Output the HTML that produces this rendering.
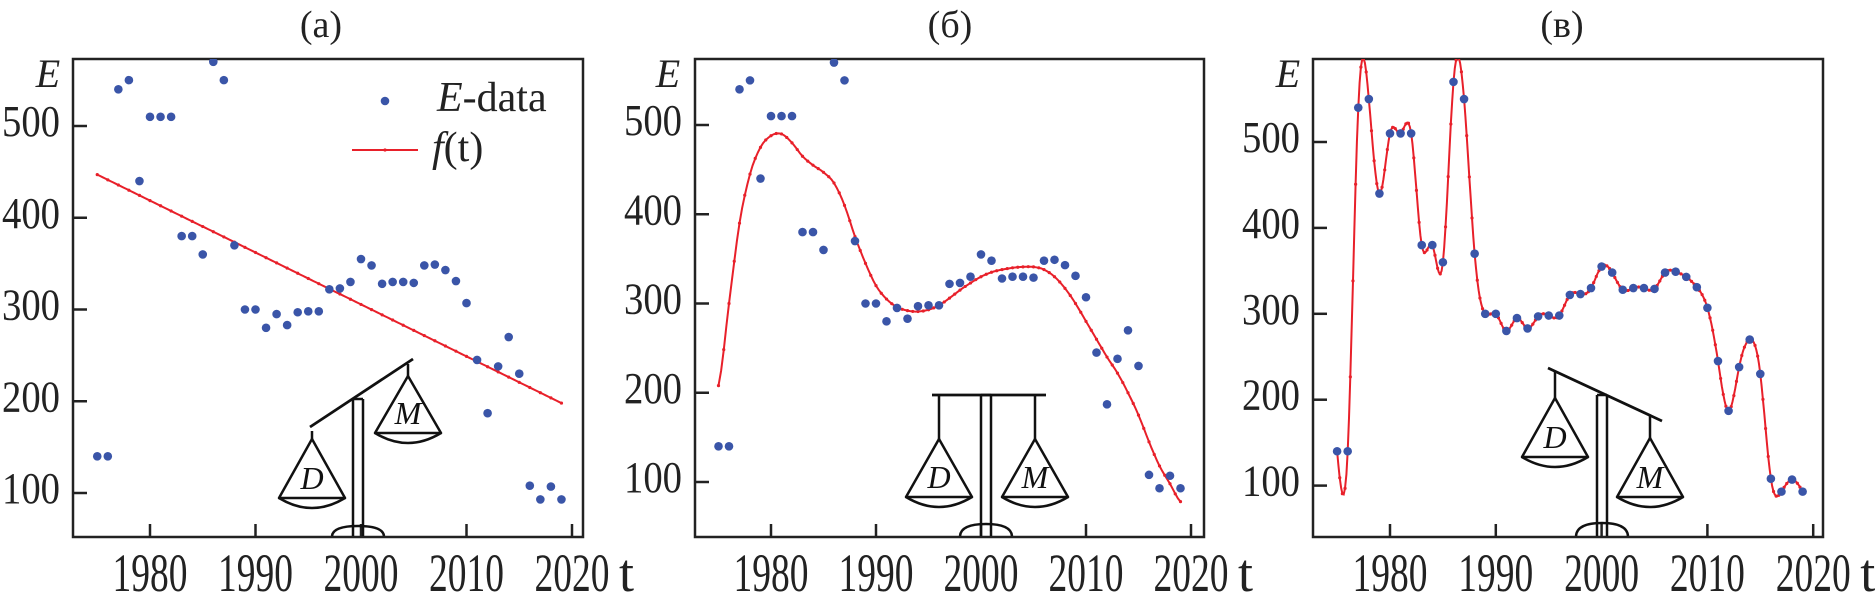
<!DOCTYPE html>
<html><head><meta charset="utf-8"><style>
html,body{margin:0;padding:0;background:#fff;}
svg{display:block;font-family:"Liberation Serif",serif;}
</style></head><body>
<svg id="chart" width="1875" height="595" viewBox="0 0 1875 595" xmlns="http://www.w3.org/2000/svg"></svg>
<script>
const years=[1975,1976,1977,1978,1979,1980,1981,1982,1983,1984,1985,1986,1987,1988,1989,1990,1991,1992,1993,1994,1995,1996,1997,1998,1999,2000,2001,2002,2003,2004,2005,2006,2007,2008,2009,2010,2011,2012,2013,2014,2015,2016,2017,2018,2019];
const eData=[140,140,540,550,440,510,510,510,380,380,360,570,550,370,300,300,280,295,283,297,298,298,322,323,330,355,348,328,330,330,329,348,349,343,331,307,245,187,238,270,230,108,93,107,93];
const fitA=[447,198];
const fitB=[208,300,390,445,475,488,490,480,465,455,447,435,410,375,345,320,305,296,292,291,293,298,306,315,323,330,335,338,340,341,341,338,330,317,300,280,260,240,222,200,175,145,118,98,78];
const xTicks=[1980,1990,2000,2010,2020];
const yTicks=[100,200,300,400,500];
const titles=["(a)","(б)","(в)"];

const NS="http://www.w3.org/2000/svg";
const svg=document.getElementById('chart');
function el(tag,attrs,parent,text){const e=document.createElementNS(NS,tag);for(const k in attrs)e.setAttribute(k,attrs[k]);if(text!==undefined)e.textContent=text;(parent||svg).appendChild(e);return e;}

const panels=[
 {l:73,r:583,t:59,b:537,x0:150,xs:10.55,y0:126,ys:0.9175,titleX:321,eX:48},
 {l:695,r:1204,t:59,b:537,x0:771,xs:10.5,y0:125,ys:0.8925,titleX:950,eX:668},
 {l:1313,r:1823,t:59,b:537,x0:1390,xs:10.58,y0:142,ys:0.859,titleX:1562,eX:1288}
];
panels.forEach((p,i)=>{
 p.X=v=>p.x0+(v-1980)*p.xs;
 p.Y=v=>p.y0+(500-v)*p.ys;
 const g=el('g',{},svg);
 
 
 const cp=el('clipPath',{id:'clip'+i},g);
 el('rect',{x:p.l,y:p.t,width:p.r-p.l,height:p.b-p.t},cp);
 const tt=el('text',{x:p.titleX,y:37,'font-size':38,'text-anchor':'middle',fill:'#222'},g,titles[i]);
 
 
 const fr=el('rect',{x:p.l,y:p.t,width:p.r-p.l,height:p.b-p.t,fill:'none',stroke:'#222','stroke-width':2.5},g);
 
 
 yTicks.forEach(v=>{
  const y=p.Y(v);
  el('line',{x1:p.l,x2:p.l+14,y1:y,y2:y,stroke:'#222','stroke-width':2.5},g);
  const t=el('text',{x:p.l-13,y:y+10,'font-size':44,'text-anchor':'end',fill:'#222',textLength:58,lengthAdjust:'spacingAndGlyphs'},g,String(v));
  
  
 });
 xTicks.forEach(v=>{
  const x=p.X(v);
  el('line',{x1:x,x2:x,y1:p.b,y2:p.b-13,stroke:'#222','stroke-width':2.5},g);
  const t=el('text',{x:x,y:591,'font-size':54,'text-anchor':'middle',fill:'#222',textLength:75,lengthAdjust:'spacingAndGlyphs'},g,String(v));
  
  
 });
 const tl=el('text',{x:p.X(2020)+47,y:591,'font-size':54,fill:'#222'},g,'t');
 
 
 const el2=el('text',{x:p.eX,y:87,'font-size':40,'font-style':'italic','text-anchor':'middle',fill:'#222'},g,'E');
 
 
 p.g=g;
});

function curvePath(p,pts){return pts.map((q,k)=>(k?'L':'M')+p.X(q[0]).toFixed(1)+','+p.Y(q[1]).toFixed(1)).join('');}
function drawCurve(i,pts,step){
 const p=panels[i];
 const c=el('g',{'clip-path':'url(#clip'+i+')'},p.g);
 const path=el('path',{d:curvePath(p,pts),fill:'none',stroke:'#e8202a','stroke-width':2},c);
 
 
 pts.forEach((q,k)=>{if(k%step===0){const m=el('circle',{cx:p.X(q[0]),cy:p.Y(q[1]),r:1.6,fill:'#e8202a'},c);
  
  }});
}
function drawData(i){
 const p=panels[i];
 const c=el('g',{'clip-path':'url(#clip'+i+')'},p.g);
 years.forEach((yr,k)=>{
  const d=el('circle',{cx:p.X(yr),cy:p.Y(eData[k]),r:4.3,fill:'#3a55a8'},c);
  
  
 });
}
(function(){
 const pts=[];const y0=years[0],y1=years[years.length-1];
 for(let k=0;k<=(y1-y0)*4;k++){const t=y0+k/4;pts.push([t,fitA[0]+(fitA[1]-fitA[0])*(t-y0)/(y1-y0)]);}
 drawCurve(0,pts,4);
})();
function catmull(xs,ys,n){
 const out=[];
 for(let k=0;k<xs.length-1;k++){
  const p0=ys[Math.max(k-1,0)],p1=ys[k],p2=ys[k+1],p3=ys[Math.min(k+2,ys.length-1)];
  for(let s=0;s<n;s++){const t=s/n;
   const v=0.5*((2*p1)+(-p0+p2)*t+(2*p0-5*p1+4*p2-p3)*t*t+(-p0+3*p1-3*p2+p3)*t*t*t);
   out.push([xs[k]+t*(xs[k+1]-xs[k]),v]);}
 }
 out.push([xs[xs.length-1],ys[ys.length-1]]);return out;
}
drawCurve(1,catmull(years,fitB,4),2);
function spline(xs,ys,n){
 const N=xs.length,h=[],al=[0],l=[1],mu=[0],z=[0],c=new Array(N).fill(0),b=[],d=[];
 for(let i=0;i<N-1;i++)h.push(xs[i+1]-xs[i]);
 for(let i=1;i<N-1;i++)al.push(3/h[i]*(ys[i+1]-ys[i])-3/h[i-1]*(ys[i]-ys[i-1]));
 for(let i=1;i<N-1;i++){l[i]=2*(xs[i+1]-xs[i-1])-h[i-1]*mu[i-1];mu[i]=h[i]/l[i];z[i]=(al[i]-h[i-1]*z[i-1])/l[i];}
 l[N-1]=1;z[N-1]=0;
 for(let j=N-2;j>=0;j--){c[j]=z[j]-mu[j]*c[j+1];b[j]=(ys[j+1]-ys[j])/h[j]-h[j]*(c[j+1]+2*c[j])/3;d[j]=(c[j+1]-c[j])/(3*h[j]);}
 const out=[];
 for(let j=0;j<N-1;j++)for(let s=0;s<n;s++){const dx=s/n*h[j];out.push([xs[j]+dx,ys[j]+b[j]*dx+c[j]*dx*dx+d[j]*dx*dx*dx]);}
 out.push([xs[N-1],ys[N-1]]);return out;
}
drawCurve(2,spline(years,eData,8),2);
drawData(0);drawData(1);drawData(2);

(function(){
 const g=el('g',{},panels[0].g);
 
 
 el('circle',{cx:385,cy:101,r:4.3,fill:'#3a55a8'},g);
 const t1=el('text',{x:437,y:111,'font-size':42,fill:'#222'},g);
 el('tspan',{'font-style':'italic'},t1,'E');
 el('tspan',{},t1,'-data');
 
 
 el('line',{x1:352,x2:418,y1:150,y2:150,stroke:'#e8202a','stroke-width':2},g);
 el('circle',{cx:385,cy:150,r:1.6,fill:'#e8202a'},g);
 const t2=el('text',{x:432,y:161,'font-size':42,fill:'#222'},g);
 el('tspan',{'font-style':'italic'},t2,'f');
 el('tspan',{},t2,'(t)');
 
 
})();

function pan(g,hx,hy,ay,by,hw,label){
 el('line',{x1:hx,y1:hy,x2:hx,y2:ay,stroke:'#111','stroke-width':2.5},g);
 el('path',{d:`M${hx-hw},${by} L${hx},${ay} L${hx+hw},${by} Z`,fill:'none',stroke:'#111','stroke-width':2.5,'stroke-linejoin':'round'},g);
 el('path',{d:`M${hx-hw},${by} Q${hx},${by+20} ${hx+hw},${by}`,fill:'none',stroke:'#111','stroke-width':2.5},g);
 el('text',{x:hx,y:by-9,'font-size':32,'font-style':'italic','text-anchor':'middle',fill:'#111'},g,label);
}
function scale(i,beam,postX,postTop,baseY,L,R){
 const g=el('g',{},panels[i].g);
 
 
 el('line',{x1:beam[0],y1:beam[1],x2:beam[2],y2:beam[3],stroke:'#111','stroke-width':2.8},g);
 el('line',{x1:postX,y1:postTop,x2:postX,y2:536,stroke:'#111','stroke-width':2.5},g);
 el('line',{x1:postX+10,y1:postTop,x2:postX+10,y2:536,stroke:'#111','stroke-width':2.5},g);
 el('line',{x1:postX,y1:postTop,x2:postX+10,y2:postTop,stroke:'#111','stroke-width':2.5},g);
 el('path',{d:`M${postX-21},536 Q${postX-20},${baseY} ${postX+5},${baseY} Q${postX+30},${baseY} ${postX+31},536`,fill:'none',stroke:'#111','stroke-width':2.5},g);
 pan(g,...L,'D');pan(g,...R,'M');
}
scale(0,[310,427,413,359],353,399,526,[312,431,439,498,33],[408,364,376,433,33]);
scale(1,[932,395,1046,395],981,395,524,[939,395,439,497,33],[1035,395,439,497,33]);
scale(2,[1548,368,1662,421],1597,395,523,[1555,372,398,457,33],[1650,416,438,497,33]);
</script>
</body></html>
